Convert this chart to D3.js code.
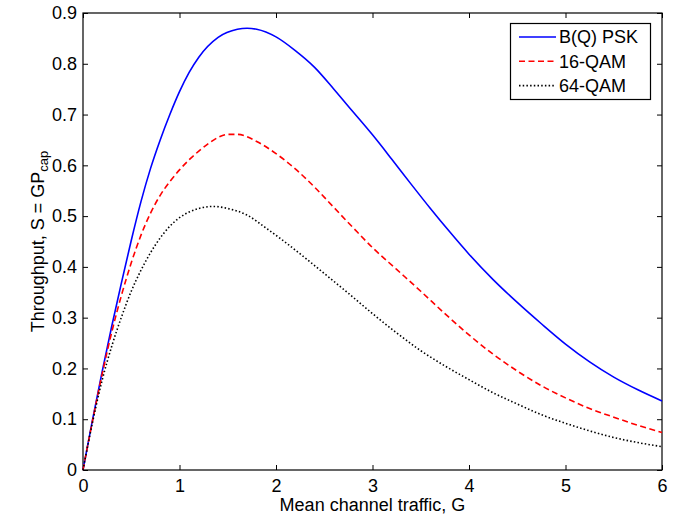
<!DOCTYPE html>
<html><head><meta charset="utf-8">
<script src="https://cdn.jsdelivr.net/npm/d3@7"></script>
<style>body{margin:0;background:#fff}svg{display:block}text{font-family:"Liberation Sans",Arial,sans-serif;fill:#000}</style>
</head><body><svg id="c" width="688" height="516"></svg>
<script>
const xTicks = [0,1,2,3,4,5,6];
const yTicks = [0,0.1,0.2,0.3,0.4,0.5,0.6,0.7,0.8,0.9];
const seriesNames = ["B(Q) PSK","16-QAM","64-QAM"];
const gBpsk = [0,0.1,0.2,0.3,0.4,0.5,0.6,0.7,0.8,0.9,1.0,1.1,1.2,1.4,1.6,1.7,1.8,2.0,2.2,2.4,2.6,2.8,3.0,3.2,3.4,3.6,3.8,4.0,4.25,4.5,4.75,5.0,5.25,5.5,5.75,6.0];
const sBpsk = [0,0.10,0.195,0.285,0.37,0.452,0.528,0.594,0.65,0.70,0.745,0.783,0.813,0.852,0.868,0.870,0.868,0.853,0.826,0.793,0.750,0.705,0.66,0.612,0.563,0.515,0.469,0.425,0.375,0.33,0.288,0.248,0.213,0.183,0.158,0.136];
const g16 = [0,0.1,0.2,0.3,0.4,0.5,0.6,0.7,0.8,0.9,1.0,1.1,1.2,1.3,1.4,1.5,1.6,1.8,2.0,2.2,2.4,2.6,2.8,3.0,3.25,3.5,3.75,4.0,4.25,4.5,4.75,5.0,5.25,5.5,5.75,6.0];
const s16 = [0,0.098,0.19,0.273,0.345,0.408,0.462,0.506,0.541,0.568,0.591,0.611,0.628,0.643,0.655,0.661,0.661,0.647,0.623,0.593,0.557,0.517,0.477,0.438,0.395,0.352,0.308,0.266,0.228,0.195,0.166,0.142,0.121,0.104,0.088,0.074];
const g64 = [0,0.1,0.2,0.3,0.4,0.5,0.6,0.7,0.8,0.9,1.0,1.1,1.2,1.35,1.5,1.7,1.9,2.1,2.3,2.5,2.75,3.0,3.25,3.5,3.75,4.0,4.25,4.5,4.75,5.0,5.25,5.5,5.75,6.0];
const s64 = [0,0.095,0.178,0.245,0.302,0.352,0.393,0.428,0.457,0.48,0.497,0.508,0.515,0.519,0.515,0.502,0.476,0.448,0.418,0.387,0.348,0.308,0.27,0.235,0.205,0.178,0.152,0.13,0.109,0.092,0.077,0.064,0.054,0.046];

const L=83,R=662,T=13,B=470;
const svg=d3.select("#c");
svg.append("rect").attr("width",688).attr("height",516).attr("fill","#fff");
const x=d3.scaleLinear().domain([0,6]).range([L,R]);
const y=d3.scaleLinear().domain([0,0.9]).range([B,T]);
const fs=18;

const gx=svg.append("g").attr("transform",`translate(0,${B})`)
  .call(d3.axisBottom(x).tickValues(xTicks).tickFormat(d3.format("d")).tickSizeInner(-5).tickSizeOuter(0).tickPadding(9));
const gxt=svg.append("g").attr("transform",`translate(0,${T})`)
  .call(d3.axisTop(x).tickValues(xTicks).tickFormat("").tickSizeInner(-5).tickSizeOuter(0));
const gy=svg.append("g").attr("transform",`translate(${L},0)`)
  .call(d3.axisLeft(y).tickValues(yTicks).tickFormat(d=>d===0?"0":d3.format(".1f")(d)).tickSizeInner(-5).tickSizeOuter(0).tickPadding(6));
const gyr=svg.append("g").attr("transform",`translate(${R},0)`)
  .call(d3.axisRight(y).tickValues(yTicks).tickFormat("").tickSizeInner(-5).tickSizeOuter(0));
[gx,gxt,gy,gyr].forEach(g=>{g.select(".domain").remove();g.selectAll("line").attr("stroke","#000");g.selectAll("text").attr("font-size",fs).attr("font-family","Liberation Sans, Arial, sans-serif").attr("fill","#000");});
svg.append("rect").attr("x",L).attr("y",T).attr("width",R-L).attr("height",B-T).attr("fill","none").attr("stroke","#000").attr("stroke-width",1.2);

const line=d3.line().x(d=>x(d[0])).y(d=>y(d[1])).curve(d3.curveMonotoneX);
const styles=[{c:"#0000ff",da:null},{c:"#ff0000",da:"6,3.5"},{c:"#000",da:"1.5,2.2"}];
const data=[d3.zip(gBpsk,sBpsk),d3.zip(g16,s16),d3.zip(g64,s64)];
data.forEach((d,i)=>{
  svg.append("path").datum(d).attr("d",line).attr("fill","none").attr("stroke",styles[i].c)
    .attr("stroke-width",1.6).attr("stroke-dasharray",styles[i].da);
});

const lg=svg.append("g");
lg.append("rect").attr("x",510.5).attr("y",23.5).attr("width",140).attr("height",76).attr("fill","#fff").attr("stroke","#000").attr("stroke-width",1.2);
seriesNames.forEach((n,i)=>{
  const yy=37+i*24.3;
  lg.append("line").attr("x1",519).attr("x2",556).attr("y1",yy).attr("y2",yy).attr("stroke",styles[i].c).attr("stroke-width",1.6).attr("stroke-dasharray",styles[i].da);
  lg.append("text").attr("x",559).attr("y",yy).attr("dy","0.35em").attr("font-size",fs).text(n);
});

svg.append("text").attr("x",(L+R)/2).attr("y",511).attr("text-anchor","middle").attr("font-size",fs).text("Mean channel traffic, G");
const yl=svg.append("text").attr("transform",`translate(44,${(T+B)/2}) rotate(-90)`).attr("text-anchor","middle").attr("font-size",fs);
yl.append("tspan").text("Throughput, S = GP");
yl.append("tspan").attr("font-size",13).attr("dy",4).text("cap");
</script></body></html>
